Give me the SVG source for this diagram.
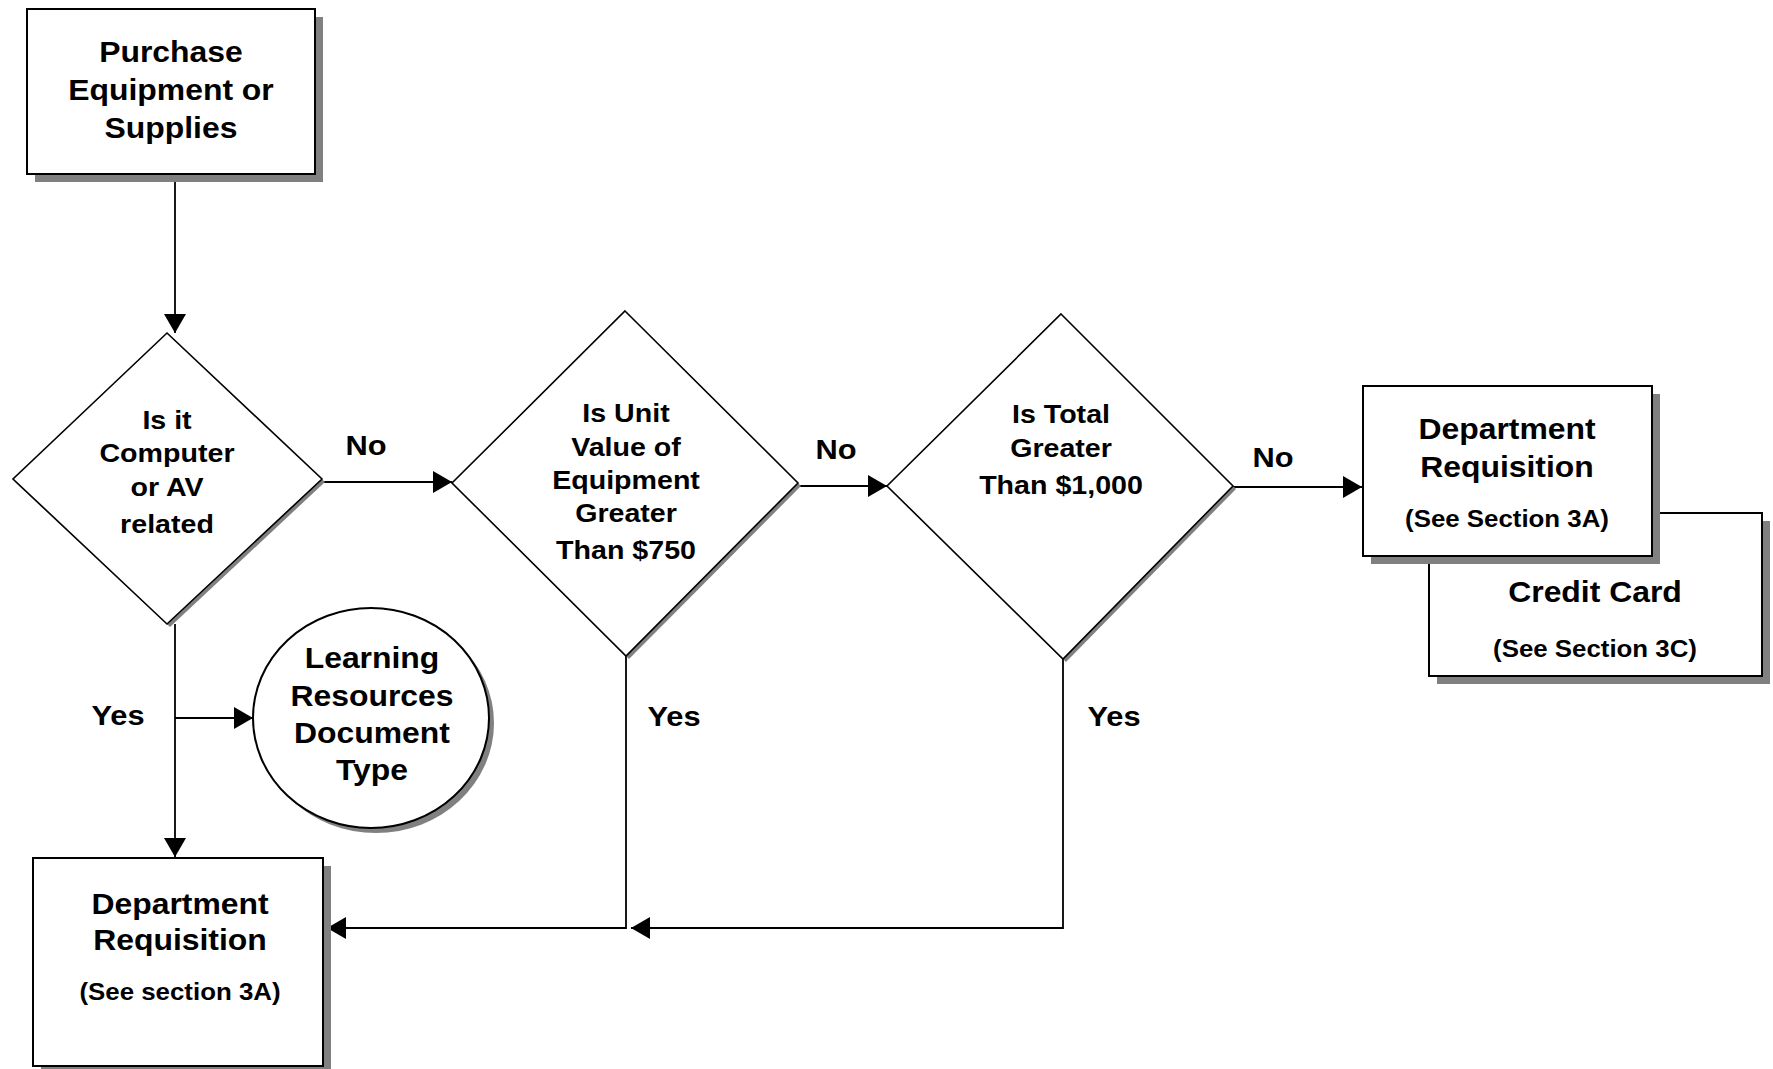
<svg xmlns="http://www.w3.org/2000/svg" width="1773" height="1069" viewBox="0 0 1773 1069">
<style>
.shape{fill:#fff;stroke:#000;stroke-width:2}
.dia{fill:#fff;stroke:#000;stroke-width:1.6}
.shadow{fill:#808080;stroke:none}
.conn{fill:none;stroke:#000;stroke-width:1.8}
text{font-family:"Liberation Sans",Arial,sans-serif;font-weight:bold;fill:#000;text-anchor:middle}
.t{font-size:29px}
.d{font-size:26px}
.s{font-size:23.5px}
.lbl{font-size:28px}
</style>
<defs>
<marker id="arr" markerUnits="userSpaceOnUse" markerWidth="20" markerHeight="22" refX="19" refY="11" orient="auto">
<path d="M0,0 L19,11 L0,22 Z" fill="#000"/>
</marker>
</defs>
<rect width="1773" height="1069" fill="#fff"/>

<g id="connectors">
<line class="conn" x1="175" y1="175" x2="175" y2="333" marker-end="url(#arr)"/>
<line class="conn" x1="322" y1="482" x2="452" y2="482" marker-end="url(#arr)"/>
<line class="conn" x1="798" y1="486" x2="887" y2="486" marker-end="url(#arr)"/>
<line class="conn" x1="1233" y1="487" x2="1362" y2="487" marker-end="url(#arr)"/>
<line class="conn" x1="175" y1="624" x2="175" y2="857" marker-end="url(#arr)"/>
<line class="conn" x1="175" y1="718" x2="253" y2="718" marker-end="url(#arr)"/>
<polyline class="conn" points="626,656 626,928 327,928" marker-end="url(#arr)"/>
<polyline class="conn" points="1063,659 1063,928 631,928" marker-end="url(#arr)"/>
</g>

<g id="labels">
<g transform="translate(366 0) scale(1.1 1)"><text class="lbl" x="0" y="455">No</text></g>
<g transform="translate(836 0) scale(1.1 1)"><text class="lbl" x="0" y="459">No</text></g>
<g transform="translate(1273 0) scale(1.1 1)"><text class="lbl" x="0" y="467">No</text></g>
<g transform="translate(118 0) scale(1.1 1)"><text class="lbl" x="0" y="725">Yes</text></g>
<g transform="translate(674 0) scale(1.1 1)"><text class="lbl" x="0" y="726">Yes</text></g>
<g transform="translate(1114 0) scale(1.1 1)"><text class="lbl" x="0" y="726">Yes</text></g>
</g>

<g id="start">
<rect class="shadow" x="35" y="17" width="288" height="165"/>
<rect class="shape" x="27" y="9" width="288" height="165"/>
<g transform="translate(171 0) scale(1.1 1)">
<text class="t" x="0" y="62">Purchase</text>
<text class="t" x="0" y="100">Equipment or</text>
<text class="t" x="0" y="138">Supplies</text>
</g>
</g>

<g id="q1">
<polygon class="shadow" points="170,336 325,482 170,627 15,482"/>
<polygon class="dia" points="167,333 322,479 167,624 13,479"/>
<g transform="translate(167 0) scale(1.1 1)">
<text class="d" x="0" y="429">Is it</text>
<text class="d" x="0" y="462">Computer</text>
<text class="d" x="0" y="496">or AV</text>
<text class="d" x="0" y="533">related</text>
</g>
</g>

<g id="q2">
<polygon class="shadow" points="628,314 801,486 629,659 455,486"/>
<polygon class="dia" points="625,311 798,483 626,656 452,483"/>
<g transform="translate(626 0) scale(1.1 1)">
<text class="d" x="0" y="422">Is Unit</text>
<text class="d" x="0" y="456">Value of</text>
<text class="d" x="0" y="489">Equipment</text>
<text class="d" x="0" y="522">Greater</text>
<text class="d" x="0" y="559">Than $750</text>
</g>
</g>

<g id="q3">
<polygon class="shadow" points="1064,317 1236,489 1066,662 890,489"/>
<polygon class="dia" points="1061,314 1233,486 1063,659 887,486"/>
<g transform="translate(1061 0) scale(1.1 1)">
<text class="d" x="0" y="423">Is Total</text>
<text class="d" x="0" y="457">Greater</text>
<text class="d" x="0" y="494">Than $1,000</text>
</g>
</g>

<g id="credit">
<rect class="shadow" x="1437" y="521" width="333" height="163"/>
<rect class="shape" x="1429" y="513" width="333" height="163"/>
<g transform="translate(1595 0) scale(1.1 1)">
<text class="t" x="0" y="602">Credit Card</text>
<text class="s" x="0" y="657">(See Section 3C)</text>
</g>
</g>

<g id="dept-right">
<rect class="shadow" x="1371" y="394" width="289" height="170"/>
<rect class="shape" x="1363" y="386" width="289" height="170"/>
<g transform="translate(1507 0) scale(1.1 1)">
<text class="t" x="0" y="439">Department</text>
<text class="t" x="0" y="477">Requisition</text>
<text class="s" x="0" y="527">(See Section 3A)</text>
</g>
</g>

<g id="learning">
<ellipse class="shadow" cx="376" cy="723" rx="118" ry="110"/>
<ellipse class="shape" cx="371" cy="718" rx="118" ry="110"/>
<g transform="translate(372 0) scale(1.1 1)">
<text class="t" x="0" y="668">Learning</text>
<text class="t" x="0" y="706">Resources</text>
<text class="t" x="0" y="743">Document</text>
<text class="t" x="0" y="780">Type</text>
</g>
</g>

<g id="dept-left">
<rect class="shadow" x="41" y="866" width="290" height="210"/>
<rect class="shape" x="33" y="858" width="290" height="208"/>
<g transform="translate(180 0) scale(1.1 1)">
<text class="t" x="0" y="914">Department</text>
<text class="t" x="0" y="950">Requisition</text>
<text class="s" x="0" y="1000">(See section 3A)</text>
</g>
</g>
</svg>
